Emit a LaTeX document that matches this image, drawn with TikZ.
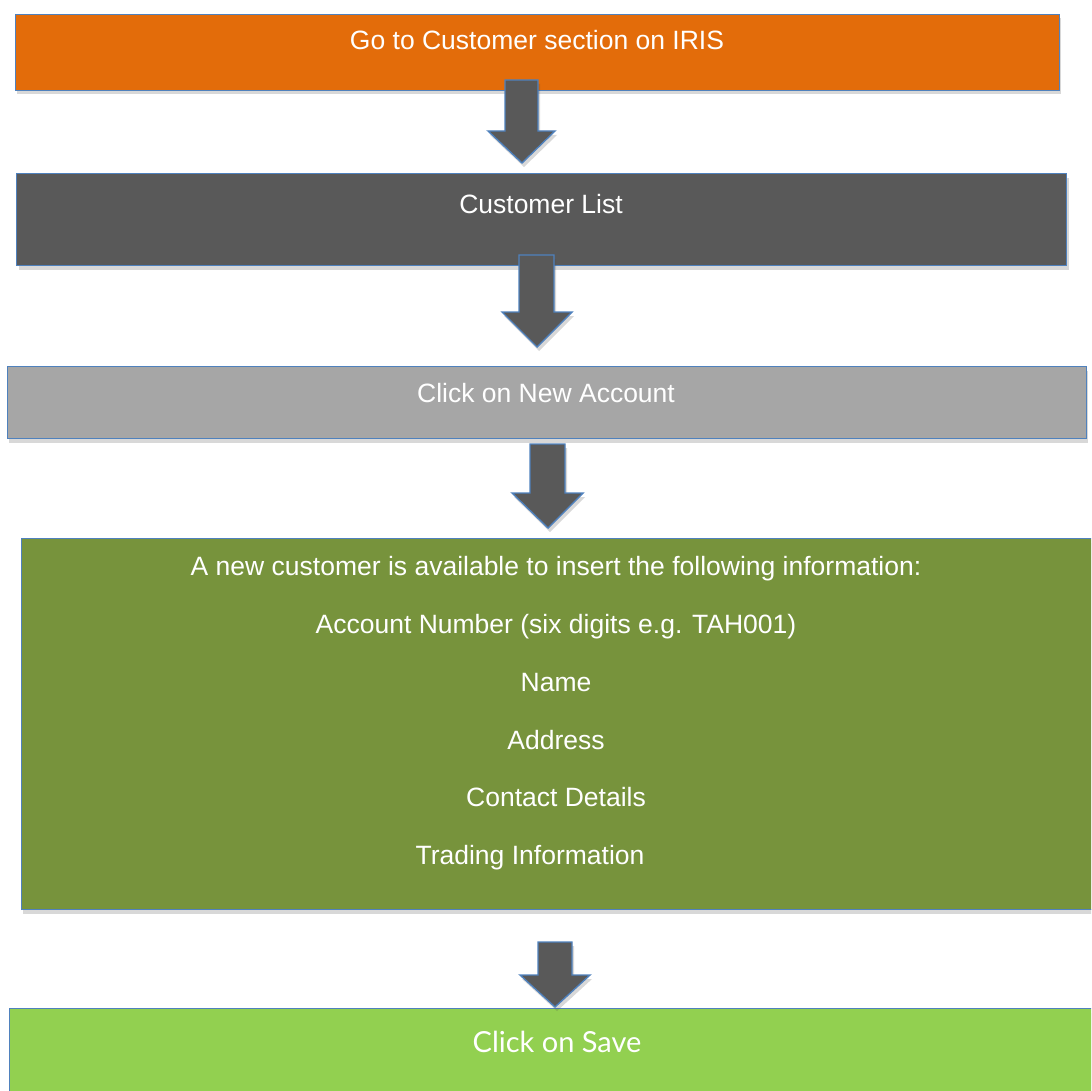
\documentclass[tikz,border=0pt]{standalone}
\usepackage{fontspec}
\setmainfont{Liberation Sans}
\newfontfamily\savefont{Lato}
\usetikzlibrary{shadows}
\definecolor{borderblue}{HTML}{4F81BD}
\definecolor{orangeA}{HTML}{E36C0A}
\definecolor{darkgrayA}{HTML}{595959}
\definecolor{lightgrayA}{HTML}{A6A6A6}
\definecolor{oliveA}{HTML}{77933C}
\definecolor{limeA}{HTML}{92D050}
\tikzset{
  softshadow/.style={drop shadow={shadow xshift=2pt, shadow yshift=-4pt, opacity=0.22, fill=black!70}},
  stepbox/.style={draw=borderblue, line width=1.4pt, anchor=north west, inner sep=0pt, softshadow},
  blockarrow/.style={draw=borderblue, line width=1.4pt, fill=darkgrayA, line join=miter, softshadow},
  boxtext/.style={anchor=base, text=white, inner sep=0pt, font=\fontsize{26.5}{30}\selectfont}
}
\begin{document}
\begin{tikzpicture}[x=1pt,y=-1pt]
\useasboundingbox (0,0) rectangle (1091,1091);
\clip (0,0) rectangle (1091,1091);
% boxes
\node[stepbox, fill=orangeA, minimum width=1044pt, minimum height=76pt] (b1) at (14.7,13.7) {};
\node[stepbox, fill=darkgrayA, minimum width=1050pt, minimum height=92pt] (b2) at (16,173) {};
\node[stepbox, fill=lightgrayA, minimum width=1079pt, minimum height=72pt] (b3) at (6.7,366) {};
\node[stepbox, fill=oliveA, minimum width=1080pt, minimum height=371pt] (b4) at (20.7,538) {};
\node[stepbox, fill=limeA, minimum width=1090pt, minimum height=100pt] (b5) at (9,1008) {};
% block arrows
\draw[blockarrow] (505,80) -- (538,80) -- (538,131) -- (555,131) -- (522,163) -- (488,131) -- (505,131) -- cycle;
\draw[blockarrow] (519,255) -- (554,255) -- (554,312) -- (572,312) -- (537,347) -- (502,312) -- (519,312) -- cycle;
\draw[blockarrow] (530,444) -- (565,444) -- (565,493) -- (583,493) -- (548,528) -- (512,493) -- (530,493) -- cycle;
\draw[blockarrow] (538,942) -- (572,942) -- (572,975) -- (590,975) -- (555,1007) -- (520,975) -- (538,975) -- cycle;
% texts
\node[boxtext] (t1) at (537,50) {Go to Customer section on IRIS};
\node[boxtext] (t2) at (541,214) {Customer List};
\node[boxtext] (t3) at (546,402) {Click on New Account};
\node[boxtext] (t4a) at (556,575) {A new customer is available to insert the following information:};
\node[boxtext] (t4b) at (556,633) {Account Number (six digits e.g. TAH001)};
\node[boxtext] (t4c) at (556,691) {Name};
\node[boxtext] (t4d) at (556,749) {Address};
\node[boxtext] (t4e) at (556,806) {Contact Details};
\node[boxtext] (t4f) at (530,864) {Trading Information};
\node[boxtext, font=\savefont\fontsize{29}{33}\selectfont] (t5) at (557,1052) {Click on Save};
\end{tikzpicture}
\end{document}
